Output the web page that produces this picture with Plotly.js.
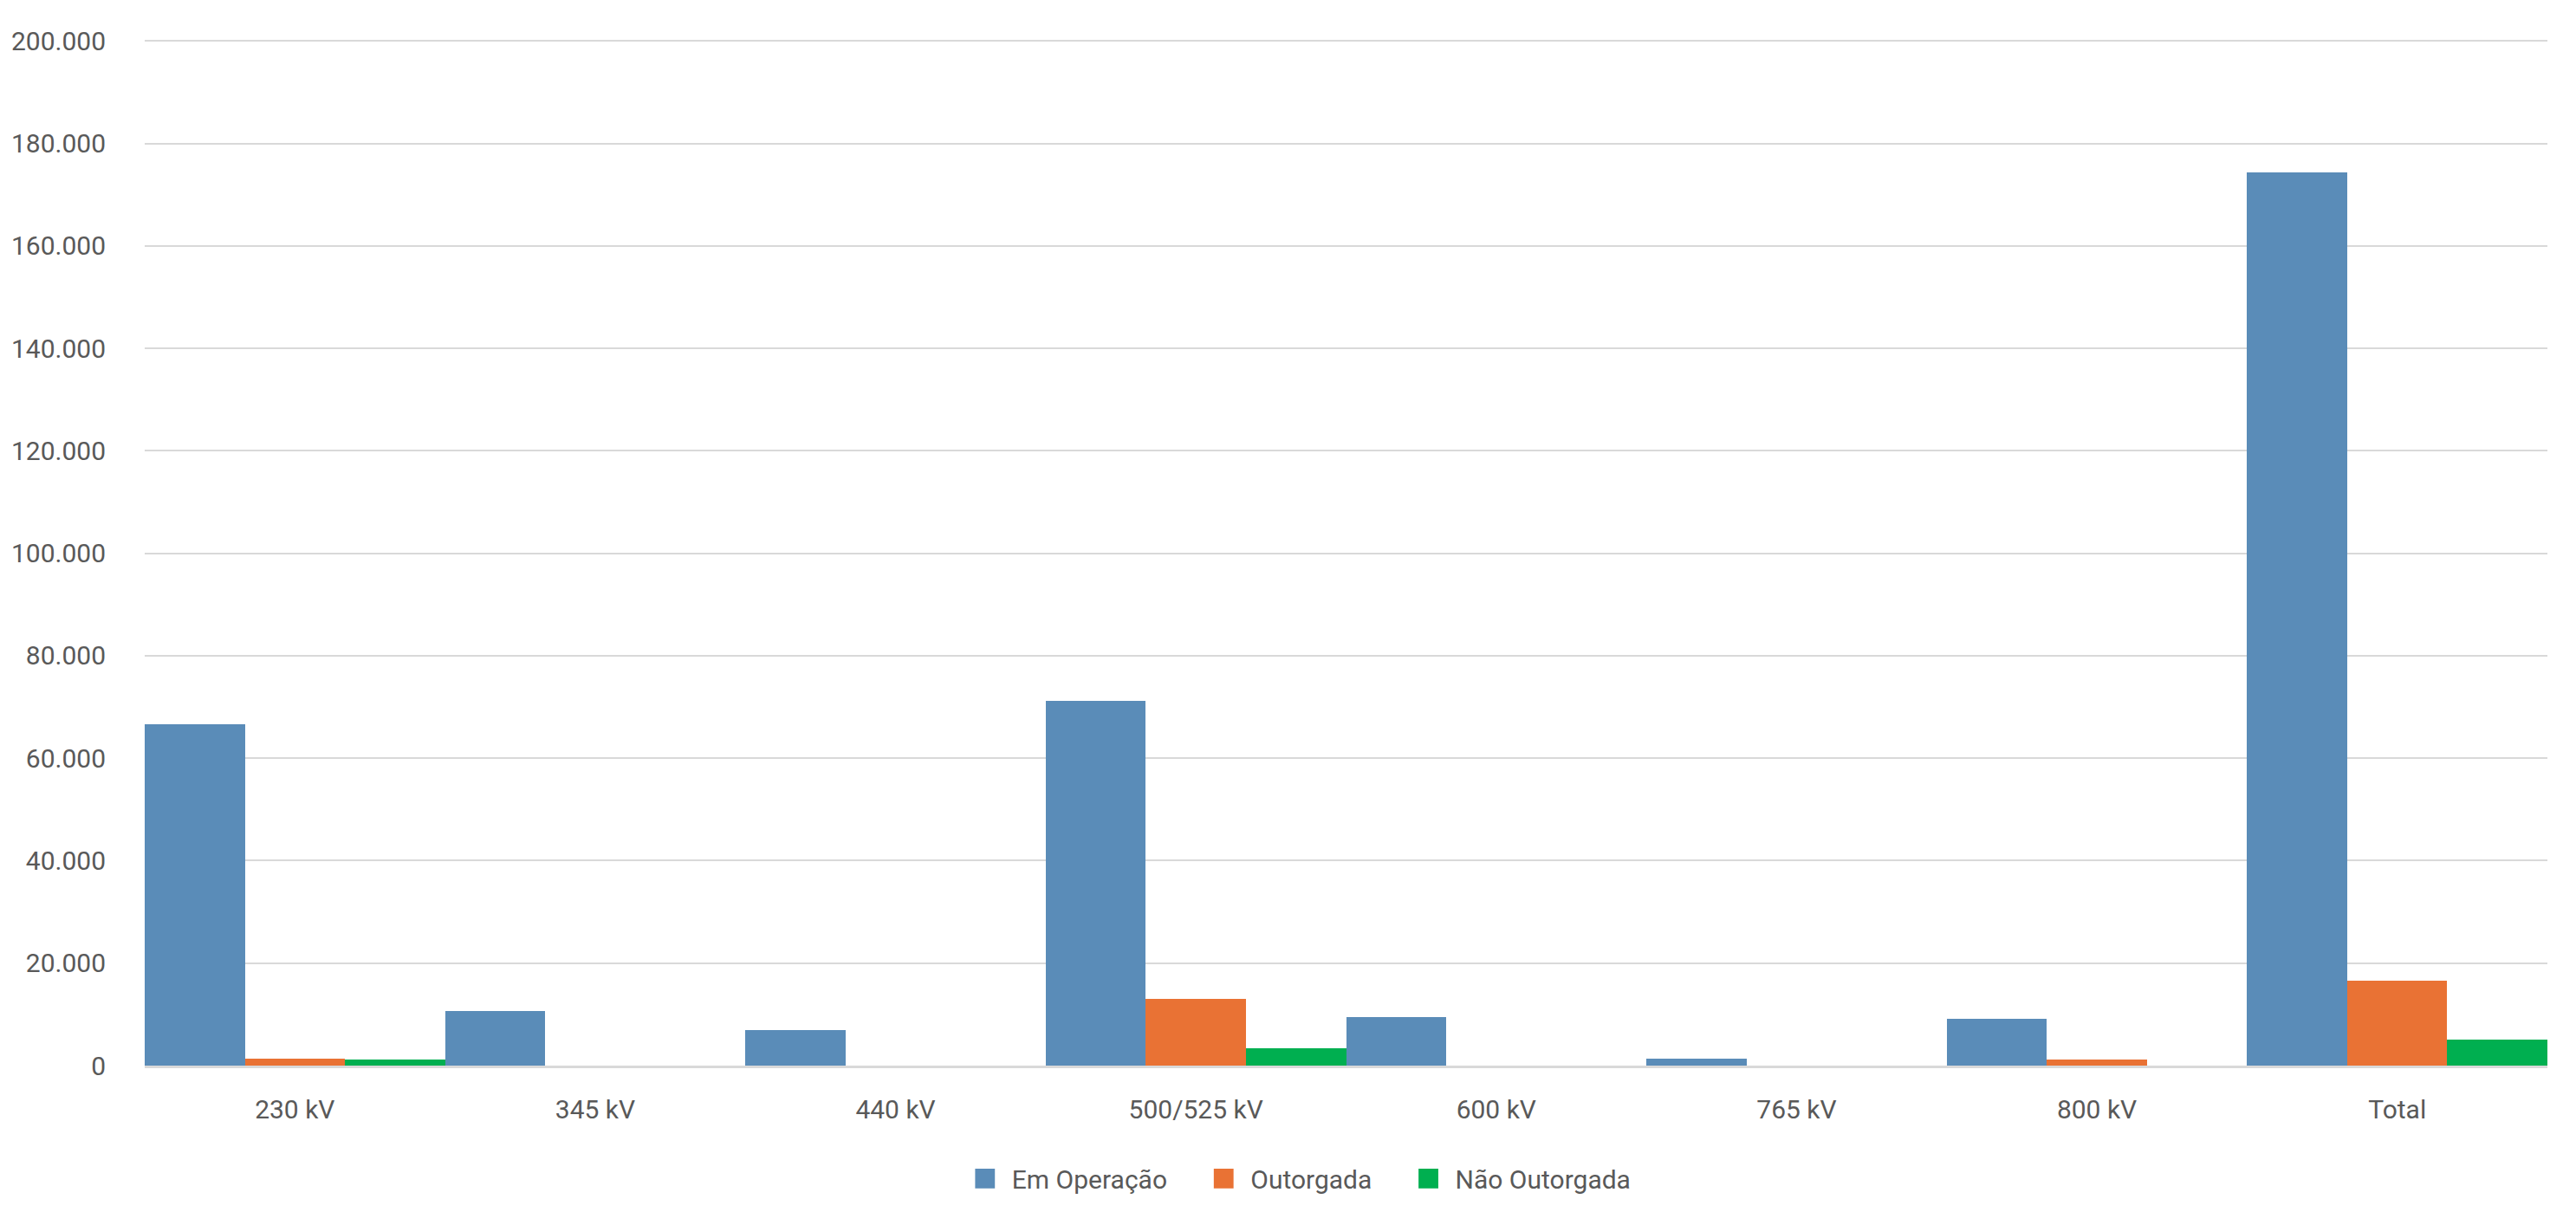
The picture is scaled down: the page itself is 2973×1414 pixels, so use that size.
<!DOCTYPE html>
<html>
<head>
<meta charset="utf-8">
<script src="https://cdn.plot.ly/plotly-3.0.1.min.js"></script>
<style>
  html, body { margin: 0; padding: 0; background: #fff; }
  #chart { width: 2973px; height: 1414px; }
  /* bigger square swatches in the legend, a bit closer to the text */
  #chart .legend .legendpoints path { transform: translate(9px, 0) scale(1.9); }
</style>
</head>
<body>
<div id="chart"></div>
<script>
// categories (tensão) and values, in km
var categories = ['230 kV', '345 kV', '440 kV', '500/525 kV', '600 kV', '765 kV', '800 kV', 'Total'];
var emOperacao = [66700, 10600, 6900, 71200, 9400, 1400, 9100, 174400];
var outorgada = [1400, 0, 0, 13000, 0, 0, 1200, 16500];
var naoOutorgada = [1200, 0, 0, 3400, 0, 0, 0, 5000];

var seriesNames = ['Em Operação', 'Outorgada', 'Não Outorgada'];
var seriesColors = ['#5A8CB8', '#E97234', '#00AF50'];
var tickVals = [0, 20000, 40000, 60000, 80000, 100000, 120000, 140000, 160000, 180000, 200000];

var font = 'Roboto, sans-serif';
// a few no-break spaces after each legend name give the gap between entries
var legendPad = '\u00a0\u00a0\u00a0\u00a0\u00a0';

function makeBar(values, i) {
	return {
		type: 'bar',
		name: seriesNames[i] + (i < seriesNames.length - 1 ? legendPad : ''),
		x: categories,
		y: values,
		marker: {color: seriesColors[i], line: {width: 0}},
		hoverinfo: 'x+y'
	};
}

var data = [makeBar(emOperacao, 0), makeBar(outorgada, 1), makeBar(naoOutorgada, 2)];

var layout = {
	width: 2973,
	height: 1414,
	margin: {l: 167, r: 33, t: 45, b: 184},
	paper_bgcolor: '#ffffff',
	plot_bgcolor: '#ffffff',
	separators: ',.',
	barmode: 'group',
	bargap: 0,
	bargroupgap: 0,
	font: {family: font, size: 30, color: '#595959'},
	showlegend: true,
	legend: {
		orientation: 'h',
		x: 0.481,
		xanchor: 'center',
		y: -0.11,
		yanchor: 'middle',
		indentation: 14,
		font: {size: 30, color: '#595959'},
		itemwidth: 30,
		traceorder: 'normal'
	},
	xaxis: {
		type: 'category',
		showgrid: false,
		showline: true,
		linecolor: '#d9d9d9',
		linewidth: 3,
		ticks: '',
		ticklabelstandoff: 22,
		tickfont: {size: 30, color: '#595959'},
		fixedrange: true
	},
	yaxis: {
		range: [0, 200400],
		tickvals: tickVals,
		tickformat: ',d',
		showgrid: true,
		gridcolor: '#d9d9d9',
		gridwidth: 2,
		zeroline: false,
		showline: false,
		ticks: '',
		ticklabelstandoff: 44,
		tickfont: {size: 30, color: '#595959'},
		fixedrange: true
	}
};

Plotly.newPlot('chart', data, layout, {displayModeBar: false, staticPlot: true});
</script>
</body>
</html>
